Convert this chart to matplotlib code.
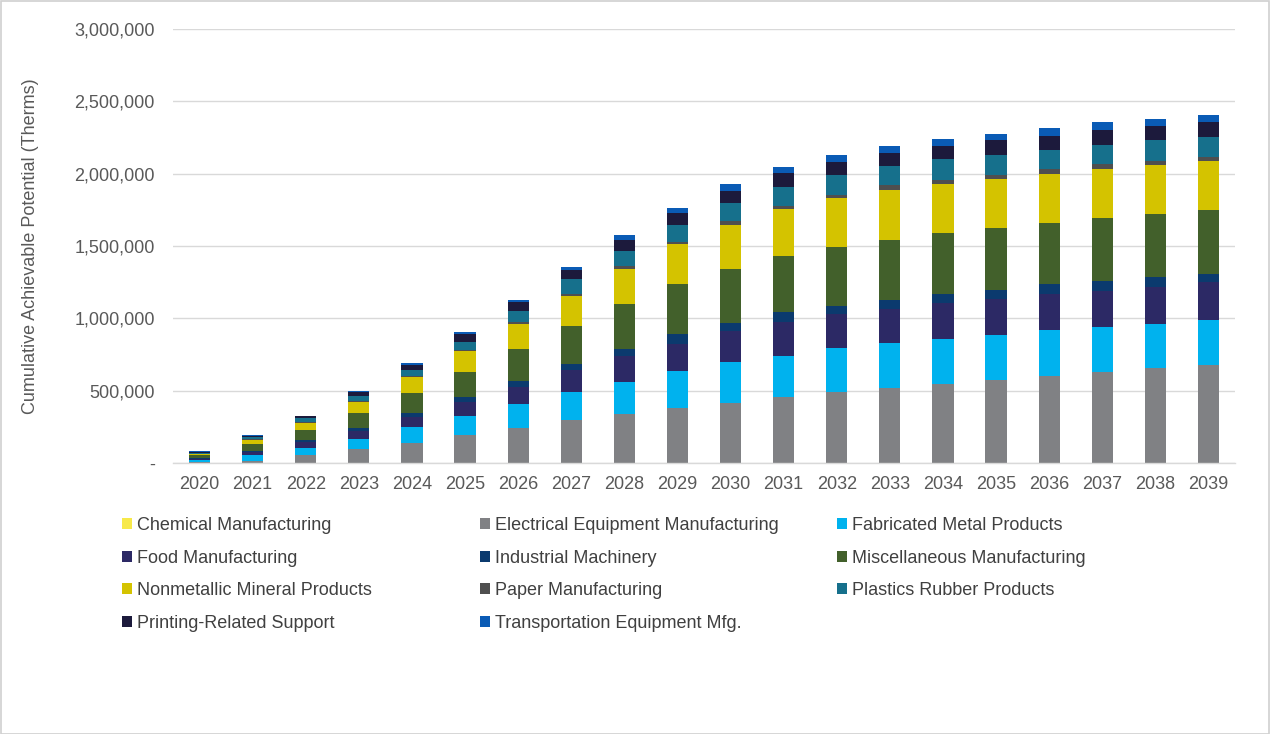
import matplotlib
matplotlib.use("Agg")
import matplotlib.pyplot as plt
import numpy as np
from matplotlib.patches import Rectangle
from matplotlib.ticker import FuncFormatter

plt.rcParams['font.family'] = ['Liberation Sans', 'DejaVu Sans']

years = [str(y) for y in range(2020, 2040)]

segments = [
    "Chemical Manufacturing",
    "Electrical Equipment Manufacturing",
    "Fabricated Metal Products",
    "Food Manufacturing",
    "Industrial Machinery",
    "Miscellaneous Manufacturing",
    "Nonmetallic Mineral Products",
    "Paper Manufacturing",
    "Plastics Rubber Products",
    "Printing-Related Support",
    "Transportation Equipment Mfg.",
]

chemical = [0, 1000, 1000, 1000, 2000, 2000, 2000, 3000, 3000, 3000,
            3000, 3000, 3000, 3000, 3000, 3000, 3000, 3000, 3000, 3000]
electrical = [8000, 16000, 56000, 97000, 137000, 189000, 242000, 293000, 334000, 380000,
              415000, 452000, 486000, 518000, 546000, 574000, 597000, 629000, 652000, 671000]
fabricated = [12000, 35000, 46000, 65000, 107000, 131000, 166000, 196000, 223000, 253000,
              279000, 288000, 304000, 309000, 309000, 311000, 318000, 311000, 306000, 316000]
food = [10000, 24000, 41000, 60000, 75000, 99000, 115000, 150000, 177000, 187000,
        212000, 230000, 235000, 233000, 249000, 249000, 249000, 247000, 258000, 258000]
industrial = [5000, 8000, 12000, 19000, 22000, 35000, 41000, 41000, 53000, 67000,
              62000, 69000, 60000, 62000, 58000, 62000, 67000, 65000, 65000, 60000]
misc = [17000, 44000, 70000, 107000, 139000, 173000, 223000, 263000, 306000, 346000,
        371000, 389000, 408000, 419000, 422000, 426000, 426000, 442000, 438000, 442000]
nonmetallic = [12000, 33000, 51000, 74000, 111000, 145000, 173000, 210000, 247000, 279000,
               304000, 323000, 334000, 346000, 341000, 341000, 341000, 336000, 339000, 336000]
paper = [1000, 3000, 4000, 5000, 6000, 9000, 12000, 12000, 16000, 16000,
         30000, 25000, 23000, 35000, 28000, 28000, 28000, 35000, 28000, 32000]
plastics = [7000, 13000, 28000, 37000, 45000, 53000, 76000, 104000, 106000, 115000,
            124000, 131000, 138000, 127000, 143000, 138000, 134000, 127000, 141000, 138000]
printing = [6000, 10000, 14000, 25000, 34000, 53000, 62000, 62000, 74000, 85000,
            83000, 92000, 92000, 94000, 92000, 99000, 99000, 104000, 101000, 101000]
transportation = [2000, 4000, 5000, 10000, 12000, 16000, 16000, 23000, 35000, 35000,
                  46000, 41000, 46000, 46000, 46000, 46000, 51000, 55000, 48000, 48000]

series = [chemical, electrical, fabricated, food, industrial, misc,
          nonmetallic, paper, plastics, printing, transportation]

colors = ["#F7E94A", "#808184", "#00B2EE", "#2C2965", "#0B3A6E", "#42602B",
          "#D4C300", "#4F4F4F", "#16708C", "#1C1A3C", "#0A5BB5"]

W, H = 1270, 734
fig = plt.figure(figsize=(W / 100, H / 100), dpi=100)
fig.patch.set_facecolor("white")
ax = fig.add_axes([173 / W, 1 - 463 / H, (1235 - 173) / W, (463 - 29) / H])

x = np.arange(len(years))
bottom = np.zeros(len(years))
handles = []
for name, vals, c in zip(segments, series, colors):
    v = np.array(vals, dtype=float)
    b = ax.bar(x, v, width=0.40, bottom=bottom, color=c, label=name, linewidth=0)
    handles.append(b)
    bottom += v

ax.set_xlim(-0.5, len(years) - 0.5)
ax.set_ylim(0, 3000000)
ax.set_yticks(np.arange(0, 3000001, 500000))
ax.yaxis.set_major_formatter(FuncFormatter(lambda v, p: "-" if v == 0 else f"{int(v):,}"))
ax.set_xticks(x)
ax.set_xticklabels(years)
ax.tick_params(axis="both", length=0, labelsize=13, colors="#595959")
ax.tick_params(axis="y", pad=13)
ax.tick_params(axis="x", pad=9)
ax.grid(axis="y", color="#D9D9D9", linewidth=1.0)
ax.set_axisbelow(True)
for s in ["top", "right", "left"]:
    ax.spines[s].set_visible(False)
ax.spines["bottom"].set_color("#D9D9D9")
ax.spines["bottom"].set_linewidth(1.0)

fig.text(31 / W, 1 - 246 / H, "Cumulative Achievable Potential (Therms)", rotation=90,
         ha="center", va="center", fontsize=13, color="#595959")

# legend: three columns placed row-wise
cols = [[0, 3, 6, 9], [1, 4, 7, 10], [2, 5, 8]]
xs = [122, 480, 837]
for col, xp in zip(cols, xs):
    leg = fig.legend([handles[i] for i in col], [segments[i] for i in col],
                     loc="upper left", bbox_to_anchor=(xp / W, 1 - 517 / H),
                     frameon=False, fontsize=13, handlelength=0.55, handleheight=0.55,
                     handletextpad=0.3, labelspacing=0.86, borderpad=0, borderaxespad=0,
                     labelcolor="#404040")

fig.add_artist(Rectangle((0.5 / W, 0.5 / H), 1 - 1.5 / W, 1 - 1.5 / H, transform=fig.transFigure,
                         fill=False, edgecolor="#D0D0D0", linewidth=1.2))

fig.savefig("out.png", dpi=100)
